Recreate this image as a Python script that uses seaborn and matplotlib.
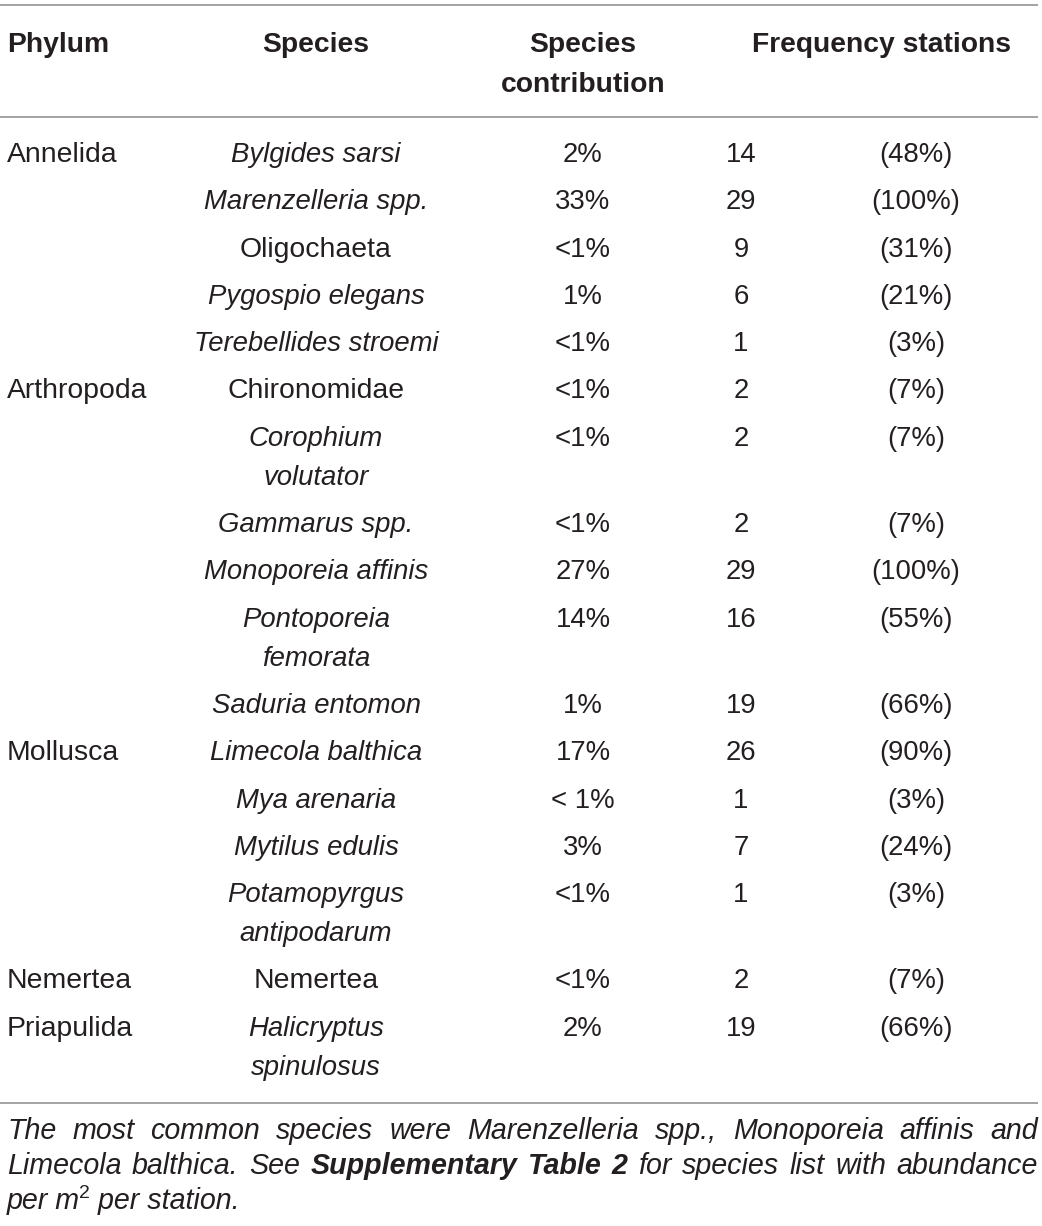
import matplotlib
matplotlib.use("Agg")
import matplotlib.pyplot as plt
import seaborn as sns

sns.set_theme(style="white")
plt.rcParams['font.family'] = ['Liberation Sans', 'DejaVu Sans']

# ---------------- data ----------------
headers = ["Phylum", "Species", "Species\ncontribution", "Frequency stations"]
phylum = ["Annelida", "", "", "", "", "Arthropoda", "", "", "", "", "",
          "Mollusca", "", "", "", "Nemertea", "Priapulida"]
species = ["Bylgides sarsi", "Marenzelleria spp.", "Oligochaeta", "Pygospio elegans",
           "Terebellides stroemi", "Chironomidae", "Corophium\nvolutator", "Gammarus spp.",
           "Monoporeia affinis", "Pontoporeia\nfemorata", "Saduria entomon",
           "Limecola balthica", "Mya arenaria", "Mytilus edulis",
           "Potamopyrgus\nantipodarum", "Nemertea", "Halicryptus\nspinulosus"]
species_italic = [True, True, False, True, True, False, True, True, True, True, True,
                  True, True, True, True, False, True]
contribution = ["2%", "33%", "<1%", "1%", "<1%", "<1%", "<1%", "<1%", "27%", "14%", "1%",
                "17%", "< 1%", "3%", "<1%", "<1%", "2%"]
stations = [14, 29, 9, 6, 1, 2, 2, 2, 29, 16, 19, 26, 1, 7, 1, 2, 19]
station_pct = ["(48%)", "(100%)", "(31%)", "(21%)", "(3%)", "(7%)", "(7%)", "(7%)", "(100%)",
               "(55%)", "(66%)", "(90%)", "(3%)", "(24%)", "(3%)", "(7%)", "(66%)"]
footnote_lines = [
    [("The", "n"), ("most", "n"), ("common", "n"), ("species", "n"), ("were", "n"),
     ("Marenzelleria", "n"), ("spp.,", "n"), ("Monoporeia", "n"), ("affinis", "n"), ("and", "n")],
    [("Limecola", "n"), ("balthica.", "n"), ("See", "n"), ("Supplementary", "b"), ("Table", "b"),
     ("2", "b"), ("for", "n"), ("species", "n"), ("list", "n"), ("with", "n"), ("abundance", "n")],
]
footnote_last = "per m", "2", " per station."

# ---------------- layout ----------------
W, H = 1042, 1226
fig = plt.figure(figsize=(W / 100, H / 100), dpi=100)
ax = fig.add_axes([0, 0, 1, 1])
ax.set_xlim(0, W)
ax.set_ylim(H, 0)
ax.axis("off")

TXT = "#231f20"
RULE = "#8a8a8a"
FS = 19.8      # numbers / italic species
FSU = 20.4     # upright words
HFS = 20.3     # header
FFS = 20.6     # footnote
LINE = 39.0

col_x = [7, 316, 583, 741, 916]

for y in (5, 117, 1103):
    ax.plot([0, 1038], [y, y], color=RULE, lw=1.1, solid_capstyle="butt")

# header
ax.text(col_x[0], 52, headers[0], ha="left", va="baseline", fontsize=HFS,
        fontweight="bold", color=TXT)
ax.text(col_x[1], 52, headers[1], ha="center", va="baseline", fontsize=HFS,
        fontweight="bold", color=TXT)
for i, ln in enumerate(headers[2].split("\n")):
    ax.text(col_x[2], 52 + 40 * i, ln, ha="center", va="baseline", fontsize=HFS,
            fontweight="bold", color=TXT)
ax.text(882, 52, headers[3], ha="center", va="baseline", fontsize=HFS,
        fontweight="bold", color=TXT)

# rows
y = 162.0
for i in range(len(species)):
    lines = species[i].split("\n")
    ax.text(col_x[0], y, phylum[i], ha="left", va="baseline", fontsize=FSU, color=TXT)
    for k, ln in enumerate(lines):
        ax.text(col_x[1], y + LINE * k, ln, ha="center", va="baseline",
                fontsize=FS if species_italic[i] else FSU,
                color=TXT, style="italic" if species_italic[i] else "normal")
    ax.text(col_x[2], y, contribution[i], ha="center", va="baseline", fontsize=FS, color=TXT)
    ax.text(col_x[3], y, str(stations[i]), ha="center", va="baseline", fontsize=FS, color=TXT)
    ax.text(col_x[4], y, station_pct[i], ha="center", va="baseline", fontsize=FS, color=TXT)
    y += 47.3 + LINE * (len(lines) - 1)

# footnote (justified)
renderer = fig.canvas.get_renderer()
left, right = 7, 1038
foot_base = [1139, 1174]
for base, words in zip(foot_base, footnote_lines):
    items = []
    for w, kind in words:
        t = ax.text(0, base, w, ha="left", va="baseline", fontsize=FFS, style="italic",
                    fontweight="bold" if kind == "b" else "normal", color=TXT)
        items.append(t)
    widths = [t.get_window_extent(renderer).width for t in items]
    gap = (right - left - sum(widths)) / (len(items) - 1)
    x = left
    for t, wd in zip(items, widths):
        t.set_x(x)
        x += wd + gap

t1 = ax.text(left, 1209, footnote_last[0], ha="left", va="baseline", fontsize=FFS,
             style="italic", color=TXT)
w1 = t1.get_window_extent(renderer).width
t2 = ax.text(left + w1 - 1, 1198, footnote_last[1], ha="left", va="baseline",
             fontsize=FFS * 0.68, color=TXT)
w2 = t2.get_window_extent(renderer).width
ax.text(left + w1 - 1 + w2, 1209, footnote_last[2], ha="left", va="baseline", fontsize=FFS,
        style="italic", color=TXT)

fig.savefig("out.png", dpi=100, facecolor="white")
